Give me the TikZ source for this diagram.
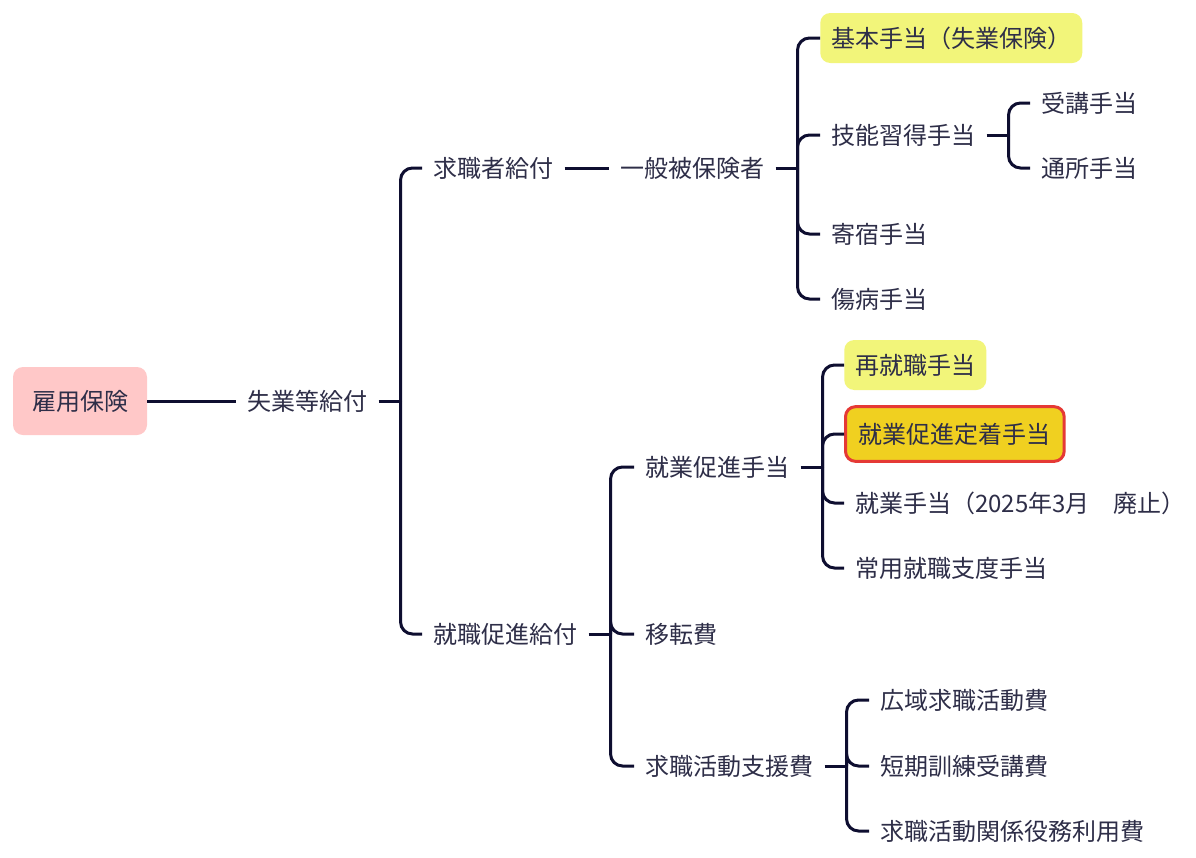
\documentclass[tikz,border=0pt]{standalone}
\usepackage{fontspec}
\setmainfont{Noto Sans CJK JP}
\usetikzlibrary{calc}
\definecolor{txt}{HTML}{2E2E48}
\definecolor{ln}{HTML}{0E0E30}
\definecolor{pinkbox}{HTML}{FFC8C8}
\definecolor{yelbox}{HTML}{F2F57A}
\definecolor{goldbox}{HTML}{F0D020}
\definecolor{redline}{HTML}{E53935}
\tikzset{
  lbl/.style={anchor=west, inner xsep=8.25pt, inner ysep=3pt, font=\fontsize{18pt}{20pt}\selectfont, text=txt},
  hbox/.style={lbl, fill=yelbox, rounded corners=7.5pt, minimum height=37.5pt},
  gbox/.style={lbl, fill=goldbox, draw=redline, line width=2.25pt, rounded corners=7.5pt, minimum height=41pt, inner xsep=10pt},
  rootbox/.style={fill=pinkbox, rounded corners=7.5pt, minimum width=100.5pt, minimum height=51pt, font=\fontsize{18pt}{20pt}\selectfont, text=txt},
  br/.style={draw=ln, line width=2.25pt},
}
\newcommand\mybranch[2]{%
  \draw[br] (#1.east) -- ++(22,0) coordinate (#1j);
  \foreach \cc in {#2} {\draw[br, rounded corners=9pt] (#1j) |- (\cc.west);}
}
\begin{document}
\begin{tikzpicture}[x=0.75pt, y=-0.75pt]
\useasboundingbox[fill=white] (0,0) rectangle (1196,857);
\node[rootbox] (root) at (80,401) {雇用保険};
\node[lbl] (a) at (236,401) {失業等給付};
\node[lbl] (b) at (422,168) {求職者給付};
\node[lbl] (c) at (609,168) {一般被保険者};
\node[hbox] (d1) at (820,38) {基本手当（失業保険）};
\node[lbl] (d2) at (820,135) {技能習得手当};
\node[lbl] (e1) at (1030,103) {受講手当};
\node[lbl] (e2) at (1030,168) {通所手当};
\node[lbl] (d3) at (820,234) {寄宿手当};
\node[lbl] (d4) at (820,299) {傷病手当};
\node[lbl] (f) at (422,634) {就職促進給付};
\node[lbl] (g) at (634,467) {就業促進手当};
\node[hbox] (h1) at (844,365) {再就職手当};
\node[gbox] (h2) at (844,434) {就業促進定着手当};
\node[lbl] (h3) at (844,503) {就業手当（2025年3月　廃止）};
\node[lbl] (h4) at (844,568) {常用就職支度手当};
\node[lbl] (i) at (634,634) {移転費};
\node[lbl] (j) at (634,766) {求職活動支援費};
\node[lbl] (k1) at (869,700) {広域求職活動費};
\node[lbl] (k2) at (869,766) {短期訓練受講費};
\node[lbl] (k3) at (869,831) {求職活動関係役務利用費};
\draw[br] (root.east) -- (a.west);
\draw[br] (b.east) -- (c.west);
\mybranch{a}{b,f}
\mybranch{c}{d1,d2,d3,d4}
\mybranch{d2}{e1,e2}
\mybranch{f}{g,i,j}
\mybranch{g}{h1,h2,h3,h4}
\mybranch{j}{k1,k2,k3}
\end{tikzpicture}
\end{document}
